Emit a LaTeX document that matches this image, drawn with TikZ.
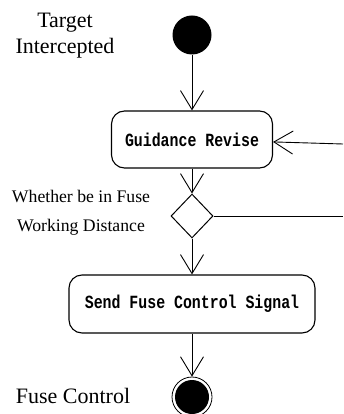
\documentclass[tikz,border=0pt]{standalone}
\usepackage{fontspec}
\setmainfont{Liberation Serif}
\newfontfamily\actfont[FakeStretch=0.8]{Liberation Mono}
\usepackage{tikz}
\usetikzlibrary{arrows.meta, shapes.geometric}

\tikzset{
  flow/.style={line width=0.9pt, -{Straight Barb[length=19pt, width=23pt, line width=0.9pt]}},
  activity/.style={draw, line width=1.1pt, rounded corners=13pt, inner sep=0pt,
    font=\fontsize{18.6}{20}\selectfont\actfont\bfseries},
  decision/.style={diamond, draw, line width=1pt, minimum width=42pt, minimum height=44pt, inner sep=0pt},
  startstate/.style={circle, fill=black, minimum size=39pt, inner sep=0pt},
  endstate/.style={circle, draw, line width=0.8pt, minimum size=40pt, inner sep=0pt,
    path picture={\fill (path picture bounding box.center) circle (17pt);}},
  caption/.style={inner sep=0pt, align=center}
}

\begin{document}
\begin{tikzpicture}[x=1pt, y=-1pt]
    \useasboundingbox (0, 0) rectangle (343, 414);
    \node[startstate] (start) at (192, 35) {};
    \node[activity, minimum width=161pt, minimum height=57pt] (guide) at (192, 139.5) {Guidance Revise};
    \node[decision] (check) at (192, 216) {};
    \node[activity, minimum width=246pt, minimum height=58pt] (send) at (192, 304) {Send Fuse Control Signal};
    \node[endstate] (fuse) at (192, 397) {};
    \coordinate (loopin) at (343, 144);
    \coordinate (loopout) at (343, 216);
    \node[caption, font=\fontsize{22}{26}\selectfont] (targetlbl) at (65, 36) {Target\\Intercepted};
    \node[caption, font=\fontsize{17.7}{28.5}\selectfont] (checklbl) at (81, 213) {Whether be in Fuse\\Working Distance};
    \node[caption, anchor=base, font=\fontsize{22}{26}\selectfont] (fuselbl) at (73, 403) {Fuse Control};
    \draw[flow] (start) -- (guide);
    \draw[flow] (guide) -- (check);
    \draw[flow] (check) -- (send);
    \draw[flow] (send) -- (fuse);
    \draw[flow] (loopin) -- (guide);
    \draw[line width=0.9pt] (check.east) -- (loopout);
  \end{tikzpicture}
\end{document}
